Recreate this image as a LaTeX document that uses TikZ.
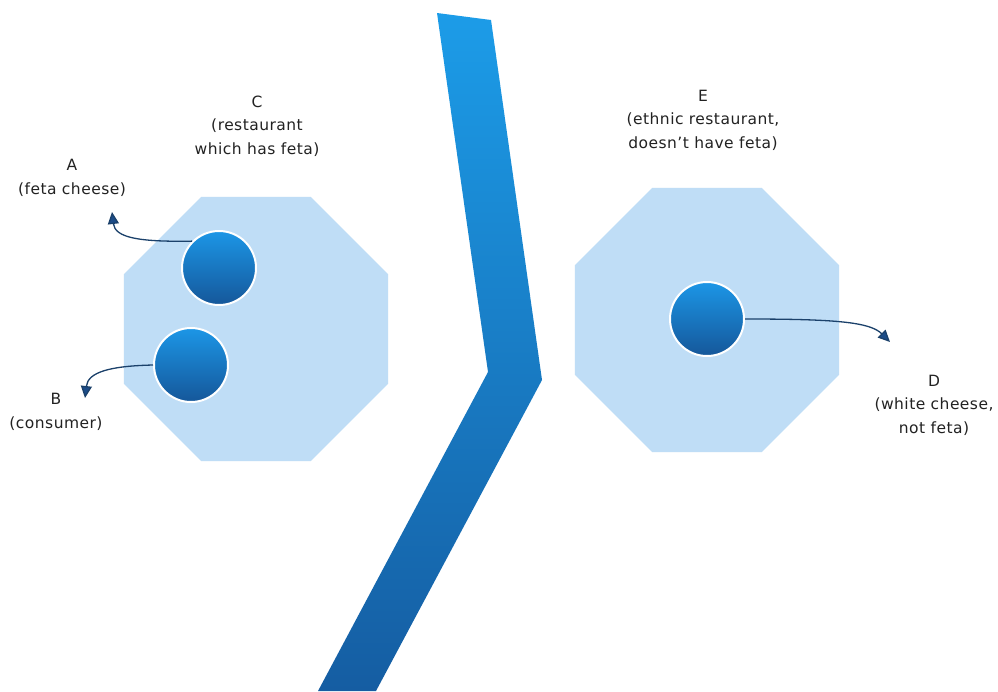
\documentclass[tikz,border=0pt]{standalone}
\usepackage{fontspec}
\setmainfont{DejaVu Sans}[LetterSpace=3]
\usetikzlibrary{shapes.geometric,arrows.meta}
\definecolor{octfill}{HTML}{BFDDF6}
\definecolor{barTop}{HTML}{1C9CE8}
\definecolor{barBot}{HTML}{155DA2}
\definecolor{ballTop}{HTML}{1C96E6}
\definecolor{ballBot}{HTML}{15579A}
\definecolor{linkcol}{HTML}{1B416B}
\definecolor{tipcol}{HTML}{1C4C88}
\definecolor{txt}{HTML}{222222}
\begin{document}
\begin{tikzpicture}[x=1pt,y=-1pt,
  octagon/.style={regular polygon, regular polygon sides=8, minimum size=286pt,
    inner sep=0pt, fill=octfill, draw=none},
  ball/.style={circle, minimum size=74pt, inner sep=0pt, draw=white,
    line width=2pt, top color=ballTop, bottom color=ballBot},
  tagtext/.style={align=center, text=txt, inner sep=0pt,
    font=\fontsize{15.5}{23.5}\selectfont},
  pointer/.style={draw=linkcol, line width=1.3pt,
    -{Triangle[width=11pt,length=12pt,fill=tipcol]}}
]
% canvas
\fill[white] (0,0) rectangle (998,691);
\useasboundingbox (0,0) rectangle (998,691);

% the two restaurants
\node[octagon] (octC) at (256,329) {};
\node[octagon] (octE) at (707,320) {};

% the dividing chevron
\shade[top color=barTop, bottom color=barBot]
  (437,13) -- (491,20) -- (542,380) -- (376,691) -- (318,691) -- (488,372) -- cycle;

% items inside the restaurants
\node[ball] (circA) at (219,268) {};
\node[ball] (circB) at (191,365) {};
\node[ball] (circD) at (707,319) {};

% captions
\node[tagtext] (lblC) at (257,126) {C\\(restaurant\\which has feta)};
\node[tagtext] (lblA) at (72,178) {A\\(feta cheese)};
\node[tagtext] (lblB) at (56,412) {B\\(consumer)};
\node[tagtext] (lblE) at (703,120) {E\\(ethnic restaurant,\\doesn't have feta)};
\node[tagtext] (lblD) at (934,405) {D\\(white cheese,\\not feta)};

% pointers from items towards their captions
\coordinate (tipA) at (112,212);
\coordinate (tipB) at (85,398);
\coordinate (tipD) at (890,342);
\draw[pointer] (circA.135) .. controls (140,242) and (115,238) .. (tipA);
\draw[pointer] (circB.west) .. controls (110,366) and (88,372) .. (tipB);
\draw[pointer] (circD.east) .. controls (835,319) and (870,322) .. (tipD);
\end{tikzpicture}
\end{document}
